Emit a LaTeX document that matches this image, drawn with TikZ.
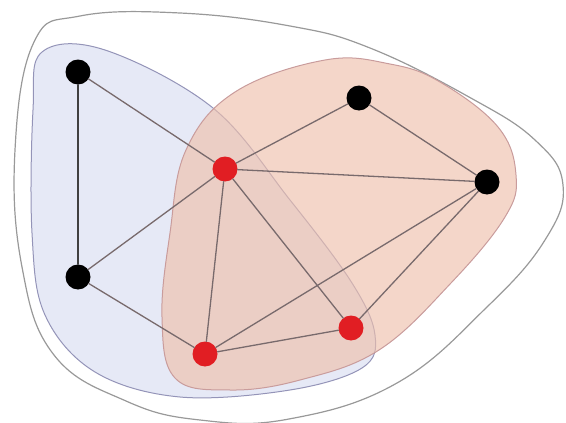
\documentclass[tikz,border=0pt]{standalone}
\definecolor{blobblue}{RGB}{230,233,246}
\definecolor{bloborange}{RGB}{238,192,172}
\definecolor{edgegrey}{RGB}{120,106,108}
\tikzset{
  vtx/.style={circle, fill=black, inner sep=0pt, minimum size=25pt},
  rvtx/.style={circle, fill={rgb,255:red,225;green,30;blue,35}, inner sep=0pt, minimum size=25pt},
  link/.style={draw=edgegrey, line width=1.3pt}
}
\begin{document}
\begin{tikzpicture}[x=1pt, y=-1pt, line join=round, line cap=round]
	\useasboundingbox (0,0) rectangle (566,423);
	% outer region
	\draw[gray!80, line width=1.2pt] plot[smooth cycle, tension=0.7] coordinates {(34,42) (80,16) (180,13) (290,26) (370,48) (469,97) (535,140) (563,185) (545,240) (487,307) (397,383) (289,419) (200,420) (126,401) (54,355) (22,267) (15,150)};
	% blue region
	\draw[blue!20!gray!70, line width=1pt, fill=blobblue] plot[smooth cycle, tension=0.6] coordinates {(42,52) (105,50) (213,108) (290,200) (352,283) (375,335) (362,368) (290,390) (180,397) (95,372) (45,315) (32,233) (33,110)};
	% orange region
	\draw[red!30!gray!60, line width=1pt, fill=bloborange, fill opacity=0.65] plot[smooth cycle, tension=0.65] coordinates {(170,233) (186,150) (235,92) (325,60) (390,64) (440,82) (498,127) (516,175) (505,217) (451,283) (379,350) (300,380) (230,390) (175,378) (162,317)};
	% vertices
	\node[vtx]  (a) at (78,72)   {};
	\node[vtx]  (b) at (78,277)  {};
	\node[rvtx] (c) at (225,169) {};
	\node[vtx]  (d) at (359,98)  {};
	\node[vtx]  (e) at (487,182) {};
	\node[rvtx] (f) at (205,354) {};
	\node[rvtx] (g) at (351,328) {};
	% edges
	\draw[line width=1.5pt, black!75] (a) -- (b);
	\foreach \u/\v in {a/c, b/c, b/f, c/d, c/e, c/f, c/g, d/e, e/f, e/g, f/g}
		\draw[link] (\u) -- (\v);
\end{tikzpicture}
\end{document}
